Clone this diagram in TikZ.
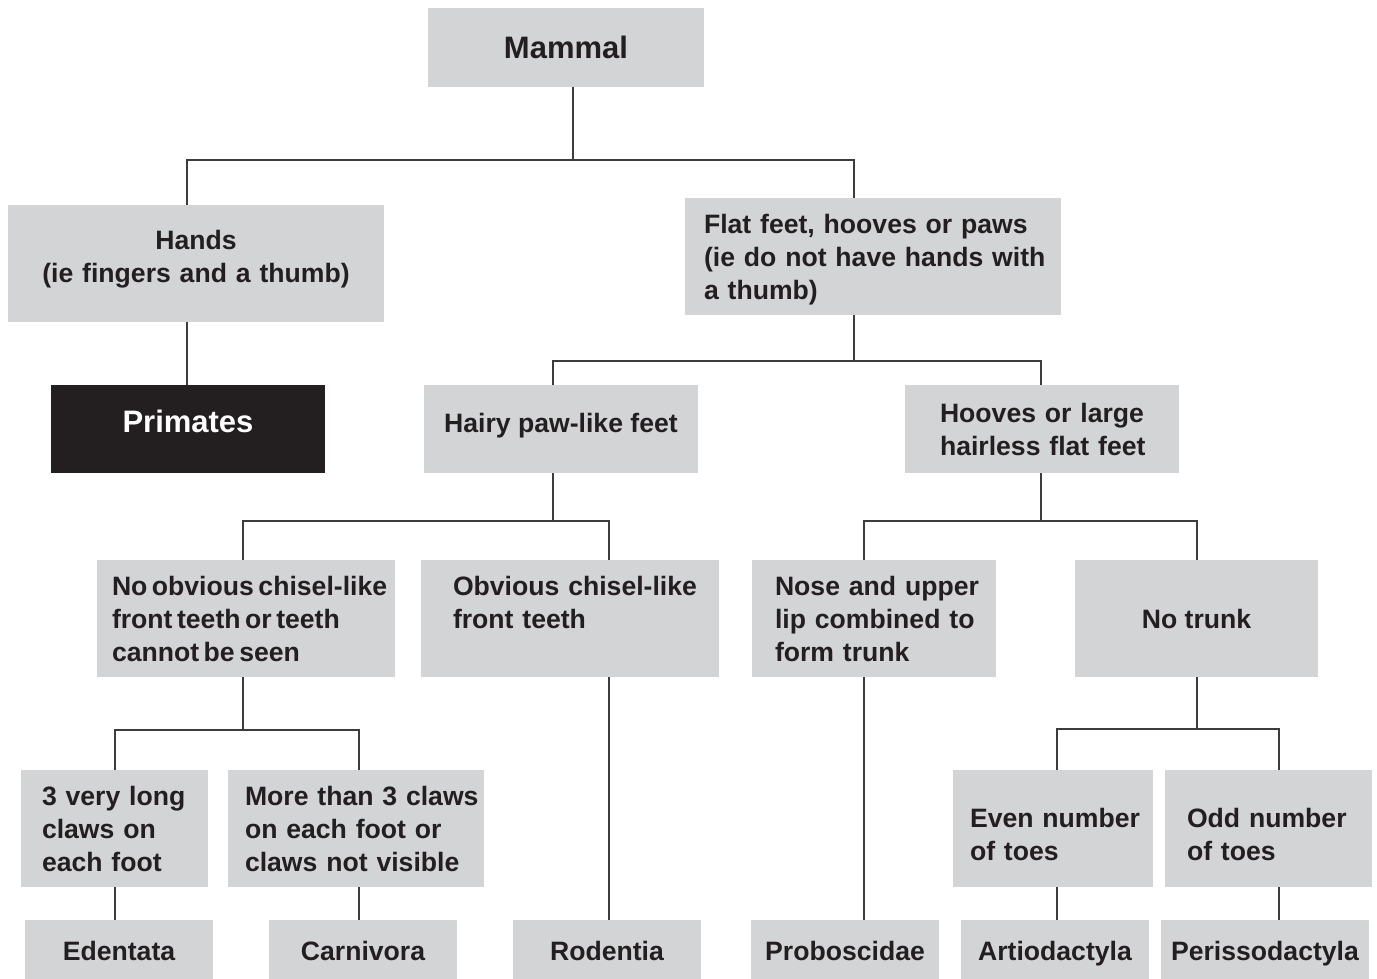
\documentclass[tikz,border=0pt]{standalone}
\usepackage{fontspec}
\setmainfont{Liberation Sans}
\definecolor{boxgray}{RGB}{211,212,214}
\definecolor{inkblack}{RGB}{35,31,32}
\definecolor{linegray}{RGB}{60,60,60}

\begin{document}
\begin{tikzpicture}[
            x=0.5pt, y=-0.5pt,
            every node/.style={fill=boxgray, text=inkblack, inner sep=0pt, outer sep=0pt,
                font=\bfseries\fontsize{13.3}{16.5}\selectfont},
            RootBlock/.style={minimum width=138pt, minimum height=39.5pt, font=\bfseries\fontsize{15.5}{18}\selectfont},
            TallBlock/.style={minimum height=58.5pt},
            ShortBlock/.style={minimum height=44pt},
            OrderBlock/.style={minimum width=94pt, minimum height=29.5pt, text height=11pt, text depth=0pt},
            CentreText/.style={minimum width=#1, align=center},
            LeftText/.style={text width=#1, align=left},
            LeftPad/.style={execute at begin node={\leftskip=#1\rightskip=-1em plus 1fil}},
            TightWords/.style={execute at begin node={\spaceskip=0.17em plus 0.05em}},
            link/.style={draw=linegray, line width=0.7pt}
            ]
            \useasboundingbox (0,0) rectangle (1377,979);

            \node [RootBlock] (mammal) at (566,47.5) {Mammal};

            \node [TallBlock, text width=188pt, align=center, text depth=24pt] (hands) at (196,263.5) {Hands\\(ie fingers and a thumb)};
            \node [TallBlock, LeftText=188pt, LeftPad=9.5pt, text height=12.7pt] (flat) at (873,256.5) {Flat feet, hooves or paws\\(ie do not have hands with\\a thumb)};

            \node [ShortBlock, minimum width=137pt, fill=inkblack, text=white, text depth=7.5pt,
                   font=\bfseries\fontsize{15.5}{18}\selectfont] (primates) at (188,429) {Primates};
            \node [ShortBlock, CentreText=137pt, text depth=5.8pt] (hairy) at (561,429) {Hairy paw-like feet};
            \node [ShortBlock, LeftText=137pt, LeftPad=17.5pt] (hooves) at (1042,429) {Hooves or large\\hairless flat feet};

            \node [TallBlock, LeftText=149pt, LeftPad=7.5pt, TightWords] (noobv) at (246,618.5) {No obvious chisel-like\\front teeth or teeth\\cannot be seen};
            \node [TallBlock, LeftText=149pt, LeftPad=16pt, text depth=33pt] (obv) at (570,618.5) {Obvious chisel-like\\front teeth};
            \node [TallBlock, LeftText=122pt, LeftPad=11.5pt] (nose) at (874,618.5) {Nose and upper\\lip combined to\\form trunk};
            \node [TallBlock, CentreText=121.5pt] (notrunk) at (1196.5,618.5) {No trunk};

            \node [TallBlock, LeftText=93.5pt, LeftPad=10.5pt] (three) at (114.5,828.5) {3 very long\\claws on\\each foot};
            \node [TallBlock, LeftText=128pt, LeftPad=8.5pt] (more) at (356,828.5) {More than 3 claws\\on each foot or\\claws not visible};
            \node [TallBlock, LeftText=100pt, LeftPad=8.5pt, text height=15.7pt] (even) at (1053,828.5) {Even number\\of toes};
            \node [TallBlock, LeftText=103.5pt, LeftPad=11pt, text height=15.7pt] (odd) at (1268.5,828.5) {Odd number\\of toes};

            % orders
            \node [OrderBlock] (edentata) at (119,949.5) {Edentata};
            \node [OrderBlock] (carnivora) at (363,949.5) {Carnivora};
            \node [OrderBlock] (rodentia) at (607,949.5) {Rodentia};
            \node [OrderBlock] (proboscidae) at (845,949.5) {Proboscidae};
            \node [OrderBlock] (artio) at (1055,949.5) {Artiodactyla};
            \node [OrderBlock, minimum width=104pt] (periss) at (1265,949.5) {Perissodactyla};

            \coordinate (mammalfork) at (573,160);
            \coordinate (flatfork) at (854,361);
            \coordinate (hairyfork) at (553,521);
            \coordinate (hoovesfork) at (1041,521);
            \coordinate (noobvfork) at (243,730);
            \coordinate (notrunkfork) at (1197,729);

            \draw[link] (mammal.south -| mammalfork) -- (mammalfork);
            \draw[link] (hands.north -| 187,0) |- (mammalfork) -| (flat.north -| 854,0);
            \draw[link] (hands.south -| 187,0) -- (primates.north -| 187,0);
            \draw[link] (flat.south -| flatfork) -- (flatfork);
            \draw[link] (hairy.north -| 553,0) |- (flatfork) -| (hooves.north -| 1041,0);
            \draw[link] (hairy.south -| hairyfork) -- (hairyfork);
            \draw[link] (noobv.north -| 243,0) |- (hairyfork) -| (obv.north -| 609,0);
            \draw[link] (hooves.south -| hoovesfork) -- (hoovesfork);
            \draw[link] (nose.north -| 864,0) |- (hoovesfork) -| (notrunk.north -| 1197,0);
            \draw[link] (noobv.south -| noobvfork) -- (noobvfork);
            \draw[link] (three.north -| 115,0) |- (noobvfork) -| (more.north -| 359,0);
            \draw[link] (notrunk.south -| notrunkfork) -- (notrunkfork);
            \draw[link] (even.north -| 1057,0) |- (notrunkfork) -| (odd.north -| 1279,0);

            \draw[link] (three.south -| 115,0) -- (edentata.north -| 115,0);
            \draw[link] (more.south -| 359,0) -- (carnivora.north -| 359,0);
            \draw[link] (obv.south -| 609,0) -- (rodentia.north -| 609,0);
            \draw[link] (nose.south -| 864,0) -- (proboscidae.north -| 864,0);
            \draw[link] (even.south -| 1057,0) -- (artio.north -| 1057,0);
            \draw[link] (odd.south -| 1279,0) -- (periss.north -| 1279,0);
        \end{tikzpicture}
\end{document}
